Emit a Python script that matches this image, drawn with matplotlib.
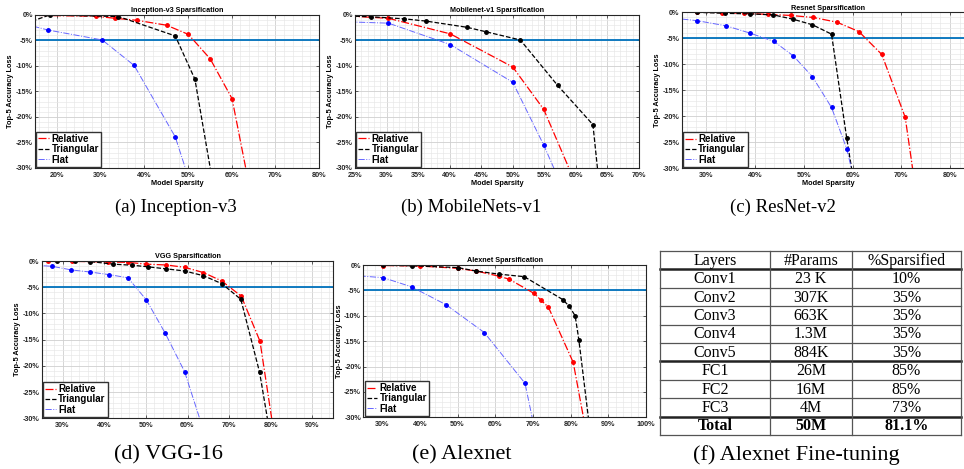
import numpy as np
import matplotlib.pyplot as plt
from matplotlib.lines import Line2D
from matplotlib.ticker import MultipleLocator, FuncFormatter

# (a) Inception-v3
inc_rel_x = [10, 28.85, 33.4, 38.4, 45.1, 50.1, 55.1, 60.1, 65]
inc_rel_y = [0.0, -0.25, -0.65, -1.05, -2.0, -3.8, -8.6, -16.4, -37.7]
inc_tri_x = [10, 18.35, 34.1, 47.1, 51.6, 57]
inc_tri_y = [-2.5, 0.0, -0.3, -4.1, -12.6, -39.4]
inc_flat_x = [10, 18.0, 30.4, 37.7, 47.1, 52]
inc_flat_y = [-1.2, -2.95, -4.9, -9.9, -23.9, -36.9]

# (b) MobileNets-v1
mob_rel_x = [24, 30.3, 40.1, 50.0, 54.9, 60]
mob_rel_y = [-0.2, -0.65, -3.7, -10.2, -18.5, -33.2]
mob_tri_x = [24, 27.6, 32.8, 36.3, 42.7, 45.8, 51.2, 57.1, 62.7, 64]
mob_tri_y = [-0.2, -0.35, -0.75, -1.2, -2.4, -3.3, -4.9, -13.8, -21.5, -37.0]
mob_flat_x = [24, 30.3, 40.1, 50.0, 54.9, 58]
mob_flat_y = [-1.35, -1.6, -5.8, -13.2, -25.5, -34.2]

# (c) ResNet-v2
res_rel_x = [24, 28.1, 33.2, 37.8, 42.6, 47.3, 52.0, 56.8, 61.3, 66.0, 70.8, 74]
res_rel_y = [0.0, 0.0, -0.05, -0.2, -0.4, -0.6, -1.0, -1.9, -3.7, -8.1, -20.2, -41.0]
res_tri_x = [24, 28.1, 33.9, 39.0, 43.8, 47.9, 51.8, 55.7, 58.8, 61]
res_tri_y = [0.0, 0.0, -0.2, -0.3, -0.5, -1.35, -2.4, -4.2, -24.1, -37.0]
res_flat_x = [23, 28.1, 34.1, 39.0, 43.9, 47.9, 51.8, 55.7, 58.8, 61]
res_flat_y = [-1.1, -1.6, -2.6, -4.0, -5.6, -8.4, -12.4, -18.3, -26.2, -34.8]

# (d) VGG-16
vgg_rel_x = [24, 26.4, 32.2, 41.0, 45.7, 50.1, 54.9, 59.3, 63.8, 68.2, 72.9, 77.4, 81.5]
vgg_rel_y = [0.0, 0.0, -0.06, -0.2, -0.25, -0.6, -0.76, -1.2, -2.2, -3.8, -6.7, -15.3, -36.8]
vgg_tri_x = [24, 28.6, 33.0, 36.6, 42.1, 46.6, 50.4, 54.9, 59.3, 63.8, 68.2, 72.8, 77.3, 80]
vgg_tri_y = [0.0, 0.0, 0.0, -0.1, -0.6, -0.8, -1.1, -1.5, -1.9, -2.8, -4.3, -7.3, -21.2, -33.9]
vgg_flat_x = [23, 27.4, 32.1, 36.6, 41.2, 45.7, 50.1, 54.6, 59.3, 64]
vgg_flat_y = [-0.8, -1.0, -1.7, -2.1, -2.6, -3.2, -7.4, -13.7, -21.1, -32.7]

# (e) Alexnet
alex_rel_x = [24, 30.3, 40.0, 50.0, 55.0, 61.0, 63.7, 70.3, 72.1, 74.1, 80.7, 85]
alex_rel_y = [0.0, -0.1, -0.2, -0.65, -1.2, -2.2, -2.8, -5.6, -6.9, -8.3, -19.2, -36.4]
alex_tri_x = [24, 30.3, 37.8, 50.0, 55.0, 61.0, 67.7, 77.9, 79.6, 81.2, 82.2, 86]
alex_tri_y = [0.0, -0.05, -0.15, -0.5, -1.2, -1.8, -2.3, -6.8, -8.1, -10.0, -14.8, -37.9]
alex_flat_x = [24, 30.3, 37.8, 46.9, 57.1, 67.9, 71]
alex_flat_y = [-2.15, -2.5, -4.3, -7.8, -13.3, -23.3, -34.3]

# (f) table
layers = ["Conv1", "Conv2", "Conv3", "Conv4", "Conv5", "FC1", "FC2", "FC3", "Total"]
params = ["23 K", "307K", "663K", "1.3M", "884K", "26M", "16M", "4M", "50M"]
sparsified = ["10%", "35%", "35%", "35%", "35%", "85%", "85%", "73%", "81.1%"]
header = ["Layers", "#Params", "%Sparsified"]

SANS = "Liberation Sans"
SERIF = "Liberation Serif"
W, H = 964, 469
FLAT_COLOR = (0.4, 0.4, 1.0)


def box(l, t, r, b):
    return [l / W, 1 - b / H, (r - l) / W, (b - t) / H]


def draw_panel(ax, title, xlim, xmajor, xminor, rel, tri, flat, xlabel=True):
    ax.axhline(-5, color=(0, 0.447, 0.741), lw=1.3, zorder=1.5)
    ax.plot(rel[0], rel[1], linestyle='-.', color='red', marker='.', ms=5, lw=0.9)
    ax.plot(tri[0], tri[1], linestyle='--', color='black', marker='.', ms=5, lw=0.9)
    ax.plot(flat[0], flat[1], linestyle='-.', color=FLAT_COLOR, marker='.', ms=5,
            mfc='blue', mec='blue', lw=0.7)
    ax.set_xlim(*xlim)
    ax.set_ylim(-30, 0)
    ax.xaxis.set_major_locator(MultipleLocator(xmajor))
    ax.xaxis.set_minor_locator(MultipleLocator(xminor))
    ax.yaxis.set_major_locator(MultipleLocator(5))
    ax.yaxis.set_minor_locator(MultipleLocator(1))
    fmt = FuncFormatter(lambda v, p: f"{int(round(v))}%")
    ax.xaxis.set_major_formatter(fmt)
    ax.yaxis.set_major_formatter(fmt)
    ax.grid(which='major', color='#cfcfcf', lw=0.6)
    ax.grid(which='minor', color='#e6e6e6', lw=0.45)
    ax.set_axisbelow(True)
    ax.tick_params(which='both', direction='in', length=2, width=0.5, labelsize=5.2, pad=1.5,
                   top=True, right=True, colors='#262626')
    ax.tick_params(axis='x', pad=2.8)
    ax.tick_params(which='minor', length=0)
    for lab in ax.get_xticklabels() + ax.get_yticklabels():
        lab.set_fontweight('bold')
        lab.set_fontfamily(SANS)
    for s in ax.spines.values():
        s.set_color('#262626')
        s.set_linewidth(0.8)
    ax.set_title(title, fontsize=5.2, fontweight='bold', family=SANS, pad=2)
    if xlabel:
        ax.set_xlabel("Model Sparsity", fontsize=5.3, fontweight='bold', family=SANS, labelpad=0.5)
    ax.set_ylabel("Top-5 Accuracy Loss", fontsize=5.3, fontweight='bold', family=SANS, labelpad=1)
    handles = [Line2D([], [], linestyle='-.', color='red', lw=0.9),
               Line2D([], [], linestyle='--', color='black', lw=0.9),
               Line2D([], [], linestyle='-.', color=FLAT_COLOR, lw=0.7)]
    leg = ax.legend(handles, ['Relative', 'Triangular', 'Flat'], loc='lower left',
                    borderaxespad=0.15, handlelength=1.1, handletextpad=0.25,
                    labelspacing=0.05, borderpad=0.2, fancybox=False, framealpha=1,
                    prop={'family': SANS, 'weight': 'bold', 'size': 7})
    leg.get_frame().set_edgecolor('#333333')
    leg.get_frame().set_linewidth(1.0)


fig = plt.figure(figsize=(W / 100, H / 100), dpi=100)

ax_a = fig.add_axes(box(35, 15, 319, 168))
draw_panel(ax_a, "Inception-v3 Sparsification", (15, 80), 10, 2,
           (inc_rel_x, inc_rel_y), (inc_tri_x, inc_tri_y), (inc_flat_x, inc_flat_y))

ax_b = fig.add_axes(box(355, 15, 639, 168))
draw_panel(ax_b, "Mobilenet-v1 Sparsification", (25, 70), 5, 1,
           (mob_rel_x, mob_rel_y), (mob_tri_x, mob_tri_y), (mob_flat_x, mob_flat_y))

ax_c = fig.add_axes(box(681.7, 12.3, 974.5, 168.3))
draw_panel(ax_c, "Resnet Sparsification", (25, 85), 10, 2,
           (res_rel_x, res_rel_y), (res_tri_x, res_tri_y), (res_flat_x, res_flat_y))

ax_d = fig.add_axes(box(41.7, 261, 333.3, 418.3))
draw_panel(ax_d, "VGG Sparsification", (25, 95), 10, 2,
           (vgg_rel_x, vgg_rel_y), (vgg_tri_x, vgg_tri_y), (vgg_flat_x, vgg_flat_y), xlabel=False)

ax_e = fig.add_axes(box(363.3, 265, 646, 417.3))
draw_panel(ax_e, "Alexnet Sparsification", (25, 100), 10, 2,
           (alex_rel_x, alex_rel_y), (alex_tri_x, alex_tri_y), (alex_flat_x, alex_flat_y), xlabel=False)

# table (f)
ax_t = fig.add_axes(box(660, 251, 961, 435))
ax_t.set_xlim(0, 301)
ax_t.set_ylim(184, 0)
ax_t.axis('off')
col_edges = [0, 110, 192, 301]
n_rows = len(layers) + 1
row_h = 184 / n_rows
rows = [header] + [[layers[i], params[i], sparsified[i]] for i in range(len(layers))]
for r, row in enumerate(rows):
    yc = (r + 0.5) * row_h
    bold = r == n_rows - 1
    for c, txt in enumerate(row):
        xc = (col_edges[c] + col_edges[c + 1]) / 2
        ax_t.text(xc, yc + 0.5, txt, ha='center', va='center', fontsize=11.5, family=SERIF,
                  fontweight='bold' if bold else 'normal')
thick_rows = [1, 6, 9]
for r in range(n_rows + 1):
    lw = 1.8 if r in thick_rows else 0.9
    ax_t.plot([0, 301], [r * row_h, r * row_h], color='#222222' if r in thick_rows else '#555555',
              lw=lw, clip_on=False)
for x in col_edges:
    ax_t.plot([x, x], [0, 184], color='#555555', lw=0.9, clip_on=False)

# captions
top_caps = [("(a) Inception-v3", 176), ("(b) MobileNets-v1", 471), ("(c) ResNet-v2", 783)]
for txt, xc in top_caps:
    fig.text(xc / W, 1 - 207 / H, txt, ha='center', va='center', fontsize=13.5, family=SERIF)
bot_caps = [("(d) VGG-16", 168), ("(e) Alexnet", 462), ("(f) Alexnet Fine-tuning", 796)]
for txt, xc in bot_caps:
    fig.text(xc / W, 1 - 455 / H, txt, ha='center', va='center', fontsize=16, family=SERIF)

fig.savefig("out.png", dpi=100)
